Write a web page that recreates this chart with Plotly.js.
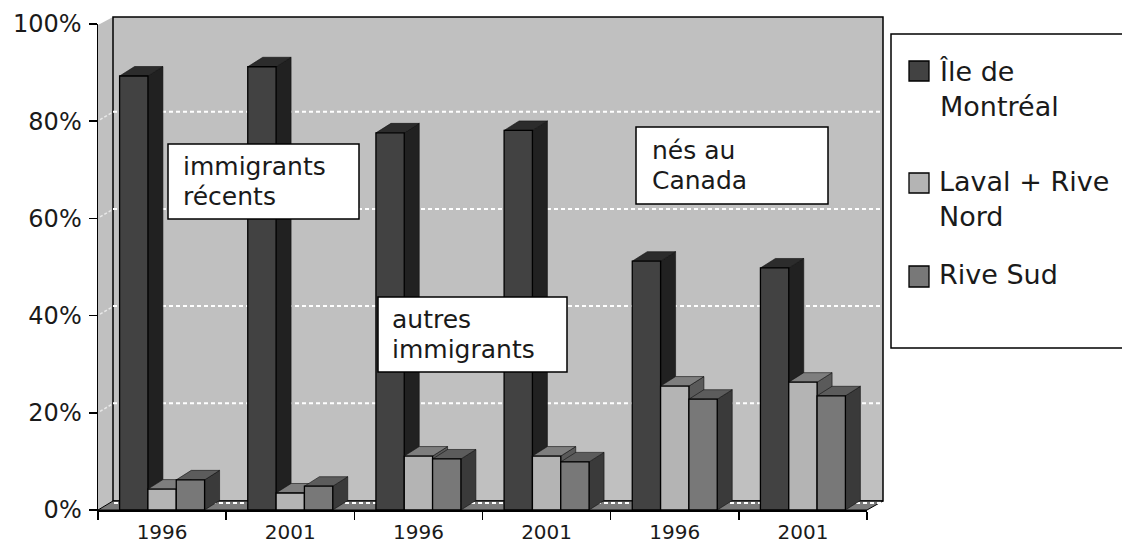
<!DOCTYPE html>
<html>
<head>
<meta charset="utf-8">
<script src="https://cdn.plot.ly/plotly-3.0.1.min.js"></script>
<style>html,body{margin:0;padding:0;background:#fff;}#chart{width:1122px;height:544px;}</style>
</head>
<body>
<div id="chart"></div>
<script>
// ---- data ----
const categories = ['1996', '2001', '1996', '2001', '1996', '2001'];
const seriesNames = ['Île de Montréal', 'Laval + Rive Nord', 'Rive Sud'];
const ileDeMontreal = [89.3, 91.2, 77.6, 78.1, 51.2, 49.8];
const lavalRiveNord = [4.3, 3.5, 11.1, 11.1, 25.5, 26.3];
const riveSud = [6.2, 4.9, 10.5, 9.9, 22.8, 23.5];
const groupLabels = [['immigrants', 'récents'], ['autres', 'immigrants'], ['nés au', 'Canada']];
const legendLabels = ['Île de<br>Montréal', 'Laval + Rive<br>Nord', 'Rive Sud'];
const yTicks = [0, 20, 40, 60, 80, 100];

// ---- styling / geometry ----
const FONT = 'DejaVu Sans, Verdana, sans-serif';
const L = 98, R = 867, T = 24, B = 510;           // plot area in px
const W = 1122, H = 544;
const pxX = x => (x - L) / (R - L);
const pxY = y => (B - y) / (B - T);
const DEPTH_PX = 15, RISE_PX = 9.5;
const xUnit = (R - L) / categories.length;       // px per category
const yUnit = (B - T) / 100;                     // px per percent
const DX = DEPTH_PX / xUnit, DY = RISE_PX / yUnit;
const barW = 0.221;

const colors = [
  {front: '#424242', top: '#2c2c2c', side: '#212121'},
  {front: '#b4b4b4', top: '#7e7e7e', side: '#5a5a5a'},
  {front: '#787878', top: '#5c5c5c', side: '#3a3a3a'}
];
const series = [ileDeMontreal, lavalRiveNord, riveSud];

const traces = [];
function poly(xs, ys, fill, lineColor, lw, name) {
  traces.push({
    type: 'scatter', mode: 'lines', name: name, x: xs.concat([xs[0]]), y: ys.concat([ys[0]]),
    fill: 'toself', fillcolor: fill, line: {color: lineColor, width: lw},
    hoverinfo: 'skip', showlegend: false
  });
}
categories.forEach((c, i) => {
  series.forEach((vals, k) => {
    const v = vals[i];
    const xl = i + (k - 1) * barW - barW / 2, xr = xl + barW;
    const col = colors[k];
    poly([xr, xr, xr + DX, xr + DX], [0, v, v + DY, DY], col.side, '#111', 0.6, seriesNames[k]);
    poly([xl, xr, xr + DX, xl + DX], [v, v, v + DY, v + DY], col.top, '#111', 0.6, seriesNames[k]);
    poly([xl, xl, xr, xr], [0, v, v, 0], col.front, '#000', 1.3, seriesNames[k]);
  });
});

// ---- decorations ----
const shapes = [];
const P = (x, y) => pxX(x).toFixed(5) + ',' + pxY(y).toFixed(5);
shapes.push({type: 'path', xref: 'paper', yref: 'paper', layer: 'below',
  path: `M${P(98,510)} L${P(98,25)} L${P(113,17)} L${P(113,501)} Z`,
  fillcolor: '#c0c0c0', line: {width: 0}});
shapes.push({type: 'rect', xref: 'paper', yref: 'paper', layer: 'below',
  x0: pxX(113), x1: pxX(883), y0: pxY(501), y1: pxY(17),
  fillcolor: '#c0c0c0', line: {color: '#000', width: 1.5}});
shapes.push({type: 'path', xref: 'paper', yref: 'paper', layer: 'below',
  path: `M${P(98,510)} L${P(113,501)} L${P(883,501)} L${P(867,510)} Z`,
  fillcolor: '#7a7a7a', line: {color: '#000', width: 1}});
yTicks.slice(1, 5).forEach(v => {
  const yb = B - v * yUnit - RISE_PX;
  shapes.push({type: 'line', xref: 'paper', yref: 'paper', layer: 'below',
    x0: pxX(113), x1: pxX(883), y0: pxY(yb), y1: pxY(yb),
    line: {color: '#ffffff', width: 2, dash: '4px,3px'}});
  shapes.push({type: 'line', xref: 'paper', yref: 'paper', layer: 'below',
    x0: pxX(100), x1: pxX(112), y0: pxY(yb + 8), y1: pxY(yb + 1),
    line: {color: '#e8e8e8', width: 1.5, dash: '3px,2px'}});
});
shapes.push({type: 'line', xref: 'paper', yref: 'paper', layer: 'below',
  x0: pxX(114), x1: pxX(882), y0: pxY(503), y1: pxY(503),
  line: {color: '#ffffff', width: 2, dash: '4px,3px'}});

// text boxes
const boxes = [
  {x0: 168, x1: 359, y0: 144, y1: 219, tx: 181},
  {x0: 378, x1: 567, y0: 297, y1: 372, tx: 390},
  {x0: 636, x1: 828, y0: 127, y1: 204, tx: 650}
];
const annotations = [];
boxes.forEach((b, j) => {
  shapes.push({type: 'rect', xref: 'paper', yref: 'paper', layer: 'above',
    x0: pxX(b.x0), x1: pxX(b.x1), y0: pxY(b.y1), y1: pxY(b.y0),
    fillcolor: '#ffffff', line: {color: '#000', width: 1.5}});
  groupLabels[j].forEach((line, li) => {
    const base = (b.y0 + b.y1) / 2 + (li === 0 ? -15 : 15);
    annotations.push({xref: 'paper', yref: 'paper', x: pxX(b.tx), y: pxY(base),
      xanchor: 'left', yanchor: 'middle', showarrow: false, text: line,
      font: {family: FONT, size: 25, color: '#1a1a1a'}});
  });
});

// manual legend
shapes.push({type: 'rect', xref: 'paper', yref: 'paper', layer: 'above',
  x0: pxX(891), x1: pxX(1135), y0: pxY(348), y1: pxY(34),
  fillcolor: '#ffffff', line: {color: '#000', width: 1.5}});
const legendItems = [
  {sq: [61, 81], ytop: 54},
  {sq: [173, 193], ytop: 164},
  {sq: [266, 287], ytop: 257}
];
legendItems.forEach((it, k) => {
  shapes.push({type: 'rect', xref: 'paper', yref: 'paper', layer: 'above',
    x0: pxX(909), x1: pxX(929), y0: pxY(it.sq[1]), y1: pxY(it.sq[0]),
    fillcolor: colors[k].front, line: {color: '#000', width: 1.3}});
  annotations.push({xref: 'paper', yref: 'paper', x: pxX(937), y: pxY(it.ytop),
    xanchor: 'left', yanchor: 'top', align: 'left', showarrow: false, text: legendLabels[k],
    font: {family: FONT, size: 27, color: '#1a1a1a'}});
});

const layout = {
  width: W, height: H,
  margin: {l: L, r: W - R, t: T, b: H - B, pad: 0},
  paper_bgcolor: '#ffffff', plot_bgcolor: 'rgba(0,0,0,0)',
  showlegend: false,
  xaxis: {
    range: [-0.5, categories.length - 0.5], tickmode: 'array',
    tickvals: categories.map((c, i) => i), ticktext: categories,
    ticks: '', showline: true, linecolor: '#000', linewidth: 1.5,
    showgrid: false, zeroline: false, fixedrange: true, ticklabelstandoff: 3,
    minor: {tickmode: 'linear', tick0: -0.5, dtick: 1, ticks: 'outside', ticklen: 8,
      tickcolor: '#000', tickwidth: 1.5, showgrid: false},
    tickfont: {family: FONT, size: 20, color: '#1a1a1a'}
  },
  yaxis: {
    range: [0, 100], tickmode: 'array', tickvals: yTicks,
    ticktext: yTicks.map(v => v + '%'),
    ticks: 'outside', ticklen: 8, tickcolor: '#000', tickwidth: 1.5,
    showline: true, linecolor: '#000', linewidth: 1.5,
    showgrid: false, zeroline: false, fixedrange: true, ticklabelstandoff: 2,
    tickfont: {family: FONT, size: 24, color: '#1a1a1a'}
  },
  shapes: shapes,
  annotations: annotations
};

Plotly.newPlot('chart', traces, layout, {displayModeBar: false, staticPlot: true});
</script>
</body>
</html>
